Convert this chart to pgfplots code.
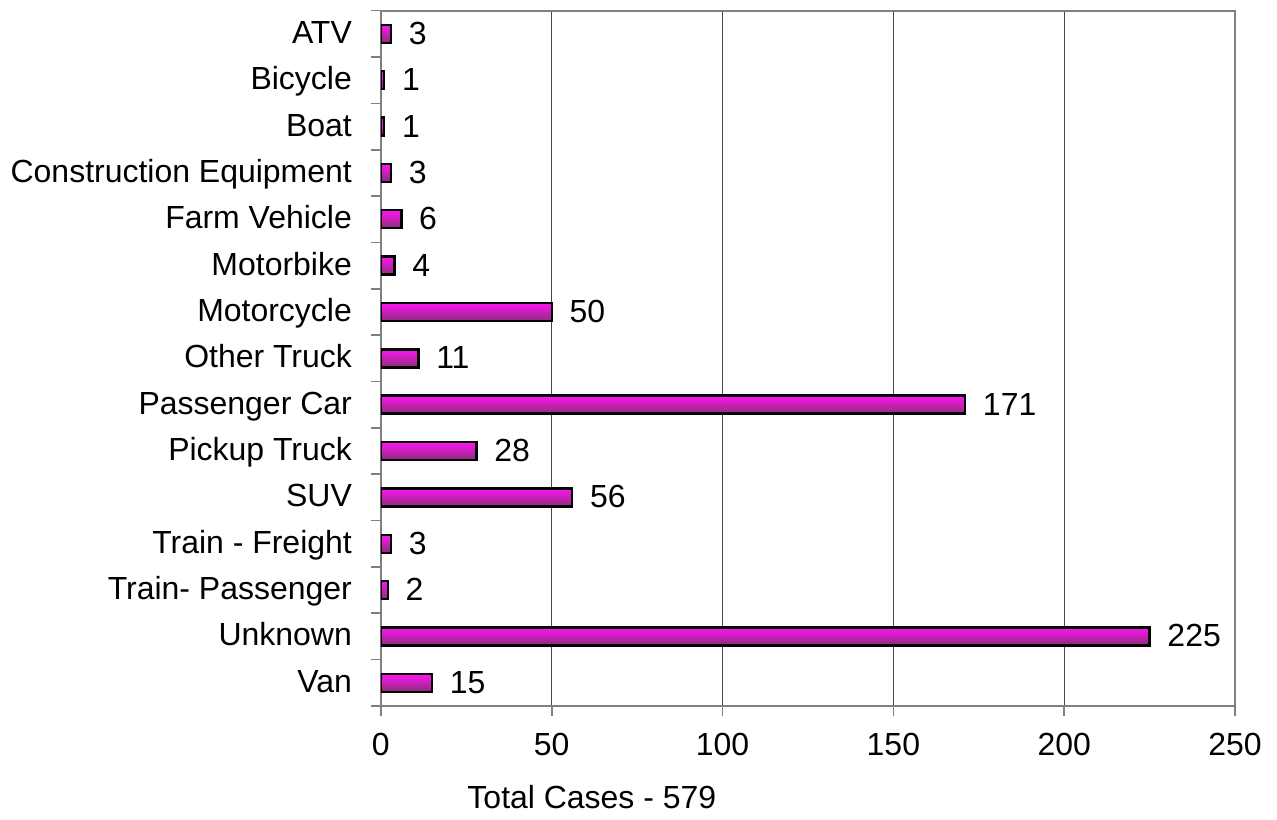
\documentclass[border=0pt]{standalone}
\usepackage{pgfplots}
\usepackage{pgfplotstable}
\pgfplotsset{compat=1.18}
\usepackage{fontspec}
\setmainfont{Liberation Sans}
\definecolor{barTop}{RGB}{255,20,245}
\definecolor{barBot}{RGB}{140,45,120}
\definecolor{axisGray}{RGB}{128,128,128}
\definecolor{gridGray}{RGB}{70,70,70}
\pgfplotstableread{
idx val
0 3
1 1
2 1
3 3
4 6
5 4
6 50
7 11
8 171
9 28
10 56
11 3
12 2
13 225
14 15
}\cases
\begin{document}
\fontsize{16}{19}\selectfont
\begin{tikzpicture}
\begin{axis}[
  scale only axis, width=427.5pt, height=348pt,
  xbar, bar width=9pt,
  xmin=0, xmax=250, xtick={0,50,...,250},
  ymin=-0.5, ymax=14.5, y dir=reverse,
  ytick={-0.5,0.5,...,14.5}, yticklabels={},
  extra y ticks={0,...,14},
  extra y tick labels={ATV,Bicycle,Boat,Construction Equipment,Farm Vehicle,Motorbike,Motorcycle,Other Truck,Passenger Car,Pickup Truck,SUV,Train - Freight,Train- Passenger,Unknown,Van},
  extra y tick style={major tick length=0pt, yticklabel style={xshift=-9pt, text height=11.5pt, text depth=0pt, yshift=1pt}},
  tick pos=left, tick align=outside, major tick length=5pt,
  tick style={axisGray, line width=0.8pt},
  axis line style={axisGray, line width=1pt},
  xmajorgrids, major grid style={gridGray, line width=0.5pt},
  xticklabel style={yshift=-3pt},
  /pgf/number format/assume math mode=true,
  ticklabel style={font=\fontsize{16}{19}\selectfont},
  xlabel={Total Cases - 579},
  every axis x label/.style={at={(rel axis cs:0.247,0)}, anchor=center, yshift=-45.5pt},
  point meta=x,
  nodes near coords,
  every node near coord/.append style={anchor=west, xshift=3pt, font=\fontsize{16}{19}\selectfont, text height=11.5pt, text depth=0pt, yshift=0.5pt},
]
\pgfplotsinvokeforeach{0,...,14}{
  \addplot[draw=black, line width=1.2pt, top color=barTop, bottom color=barBot, bar shift=0pt,
    restrict y to domain=#1:#1] table[x=val, y=idx] {\cases};
}
\end{axis}
\path (current axis.south west) ++(-190pt,-55pt) rectangle ([xshift=21pt,yshift=5pt]current axis.north east);
\end{tikzpicture}
\end{document}
